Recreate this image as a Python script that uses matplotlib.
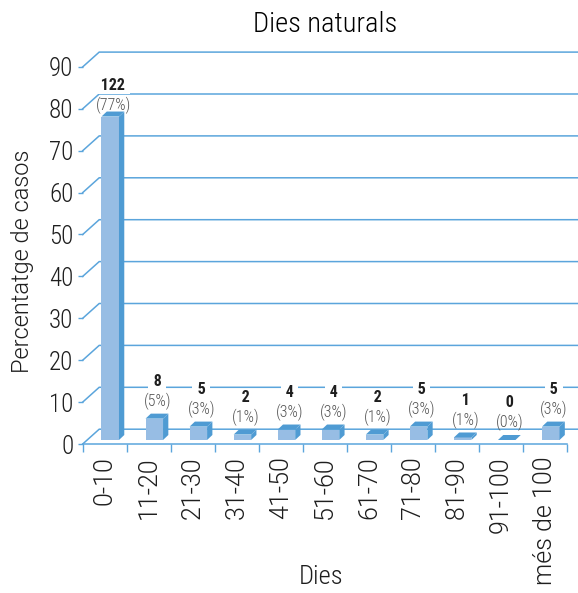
import numpy as np
import matplotlib
matplotlib.use("Agg")
import matplotlib.pyplot as plt
import matplotlib.font_manager as fm
from matplotlib.font_manager import FontProperties
from matplotlib.patches import Polygon

# ---------------- data ----------------
categories = ['0-10', '11-20', '21-30', '31-40', '41-50', '51-60',
              '61-70', '71-80', '81-90', '91-100', 'més de 100']
counts = [122, 8, 5, 2, 4, 4, 2, 5, 1, 0, 5]
percent_text = [77, 5, 3, 1, 3, 3, 1, 3, 1, 0, 3]
percent_values = [77.2, 5.1, 3.2, 1.3, 2.5, 2.5, 1.3, 3.2, 0.6, 0.0, 3.2]
yticks = [0, 10, 20, 30, 40, 50, 60, 70, 80, 90]

title = 'Dies naturals'
xlabel = 'Dies'
ylabel = 'Percentatge de casos'

# ---------------- fonts ----------------
def _is_narrow(f):
    st = str(f.stretch).lower()
    return ('condensed' in st or 'narrow' in f.name.lower() or 'condensed' in f.name.lower()
            or 'narrow' in str(f.fname).lower() or 'condensed' in str(f.fname).lower())


def _wnum(w):
    if isinstance(w, int):
        return w
    return {'light': 300, 'normal': 400, 'regular': 400, 'book': 400, 'medium': 500,
            'semibold': 600, 'bold': 700}.get(str(w).lower(), 400)


pref = ['Liberation Sans Narrow', 'Roboto Condensed', 'Open Sans Condensed',
        'Open Sans', 'Noto Sans', 'Roboto', 'DejaVu Sans']


def find_font(target_weight, narrow=True, family_prefix=None):
    best = None
    for f in fm.fontManager.ttflist:
        if narrow and not _is_narrow(f):
            continue
        if not narrow and _is_narrow(f):
            continue
        if f.style != 'normal':
            continue
        if 'mono' in f.name.lower() or 'serif' in f.name.lower():
            continue
        if family_prefix and f.name != family_prefix:
            continue
        try:
            rank = next(i for i, p in enumerate(pref) if f.name.startswith(p))
        except StopIteration:
            rank = len(pref)
        score = (rank, abs(_wnum(f.weight) - target_weight))
        if best is None or score < best[0]:
            best = (score, f.fname)
    return None if best is None else best[1]


LIGHT_FILE = find_font(300)
BOLD_FILE = find_font(700)
ROT_FILE = find_font(300, narrow=False, family_prefix='Roboto')


def fp(size, bold=False):
    fname = BOLD_FILE if bold else LIGHT_FILE
    if fname:
        return FontProperties(fname=fname, size=size)
    return FontProperties(family='Liberation Sans', size=size * 0.85,
                          weight='bold' if bold else 'normal')


def fp_rot(size):
    if ROT_FILE:
        return FontProperties(fname=ROT_FILE, size=size)
    return FontProperties(family='Liberation Sans', size=size)


BLUE = '#5ba5dc'
FRONT = '#97bde4'
SIDE = '#4f9bd3'
TXT = '#1e1e1e'

W, H = 578, 593
fig = plt.figure(figsize=(W / 100, H / 100), dpi=100)
fig.patch.set_facecolor('white')

ax_l, ax_r = 82.7, 567.3
ax_b, ax_t = 444.0, 444.0 - 377.1
ax = fig.add_axes([ax_l / W, 1 - ax_b / H, (ax_r - ax_l) / W, (ax_b - ax_t) / H])
ax.set_xlim(0, len(categories))
ax.set_ylim(0, 90)
ax.patch.set_alpha(0)

px_x = (ax_r - ax_l) / len(categories)
px_y = (ax_b - ax_t) / 90.0


def dx(p):
    return p / px_x


def dy(p):
    return p / px_y


for s in ['top', 'right', 'left']:
    ax.spines[s].set_visible(False)
ax.spines['bottom'].set_color(BLUE)
ax.spines['bottom'].set_linewidth(1.1)

# x axis
ax.set_xticks(np.arange(len(categories)) + 0.5)
ax.set_xticklabels(categories, rotation=90, color=TXT)
for lab in ax.get_xticklabels():
    lab.set_fontproperties(fp_rot(18))
ax.set_xticks(np.arange(len(categories) + 1), minor=True)
ax.tick_params(axis='x', which='major', length=0, pad=9)
ax.tick_params(axis='x', which='minor', length=5.8, width=1, color=BLUE, direction='out')

# y axis
ax.set_yticks(yticks)
ax.set_yticklabels([str(v) for v in yticks], color=TXT)
for lab in ax.get_yticklabels():
    lab.set_fontproperties(fp(18))
ax.tick_params(axis='y', length=3.9, width=1, color=BLUE, pad=2.9)

# back wall grid + diagonals
bx, by = dx(16.5), dy(14.8)
right_end = dx(W - ax_l)
for v in yticks:
    ax.plot([0, bx, right_end], [v, v + by, v + by], color=BLUE, lw=1.1,
            clip_on=False, zorder=1, solid_joinstyle='miter')

# bars (pseudo 3D)
off_c = dx(5.5)
half_w = dx(8.75)
base = dy(4.0)
ddx, ddy = dx(5.3), dy(5.0)
for i, v in enumerate(percent_values):
    xl = i + 0.5 + off_c - half_w
    xr = xl + 2 * half_w
    yb, yt = base, base + v
    if v > 0:
        ax.add_patch(Polygon([(xl, yb), (xr, yb), (xr, yt), (xl, yt)],
                             closed=True, fc=FRONT, ec='none', zorder=3, clip_on=False))
        ax.add_patch(Polygon([(xr, yb), (xr + ddx, yb + ddy), (xr + ddx, yt + ddy), (xr, yt)],
                             closed=True, fc=SIDE, ec='none', zorder=3, clip_on=False))
    ax.add_patch(Polygon([(xl, yt), (xr, yt), (xr + ddx, yt + ddy), (xl + ddx, yt + ddy)],
                         closed=True, fc=SIDE, ec='none', zorder=3, clip_on=False))

    lx = i + 0.5 + dx(8.5)
    y_pct = yt + dy(17.3 - 0.075 * v)
    ax.text(lx, y_pct, f'({percent_text[i]}%)', ha='center', va='center',
            fontproperties=fp(11.5), color='#555555', zorder=5, clip_on=False)
    ax.text(lx, y_pct + dy(20), f' {counts[i]} ', ha='center', va='center',
            fontproperties=fp(11.5, bold=True), color=TXT, zorder=5,
            clip_on=False,
            bbox=dict(facecolor='white', edgecolor='none', pad=0.8))

# titles
fig.text((ax_l + ax_r) / 2 / W, 1 - 31.7 / H, title, ha='center', va='baseline',
         fontproperties=fp(20.5), color='black')
fig.text(321 / W, 1 - 584 / H, xlabel, ha='center', va='baseline',
         fontproperties=fp(19), color=TXT)
fig.text(23 / W, 1 - 261.5 / H, ylabel, ha='center', va='center', rotation=90,
         fontproperties=fp_rot(17), color=TXT)

fig.savefig('out.png', dpi=100, facecolor='white')
